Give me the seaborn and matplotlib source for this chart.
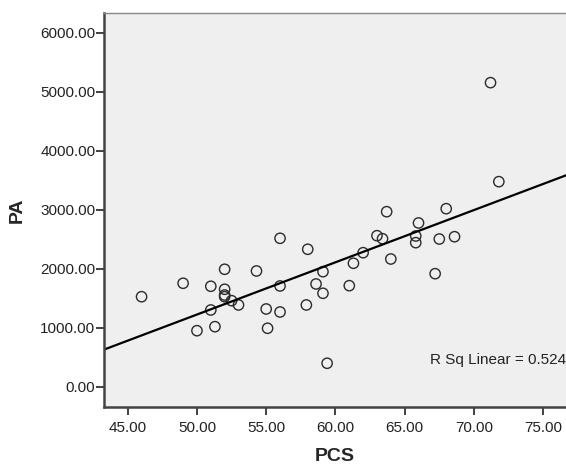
import numpy as np
import pandas as pd
import seaborn as sns
import matplotlib.pyplot as plt

# values
pcs = [46.0, 49.0, 51.0, 52.0, 52.0, 52.0, 52.0, 52.5, 53.0, 51.0,
       50.0, 51.3, 54.3, 56.0, 56.0, 55.0, 56.0, 55.1, 58.0, 59.1,
       58.6, 59.1, 57.9, 59.4, 61.0, 61.3, 62.0, 63.0, 63.4, 63.7,
       64.0, 65.8, 65.8, 66.0, 67.2, 67.5, 68.0, 68.6, 71.8, 71.2]
pa = [1525, 1753, 1702, 1990, 1651, 1554, 1525, 1458, 1385, 1300,
      949, 1017, 1961, 2515, 1707, 1317, 1266, 990, 2329, 1949,
      1741, 1583, 1385, 397, 1712, 2092, 2271, 2559, 2508, 2966,
      2164, 2554, 2441, 2775, 1915, 2503, 3017, 2542, 3475, 5153]
x_ticks = [45, 50, 55, 60, 65, 70, 75]
y_ticks = [0, 1000, 2000, 3000, 4000, 5000, 6000]
r2_text = "R Sq Linear = 0.524"

df = pd.DataFrame({"PCS": pcs, "PA": pa})

sns.set_style("white")
plt.rcParams['font.family'] = ['Liberation Sans', 'DejaVu Sans']

fig = plt.figure(figsize=(5.66, 4.66), dpi=100)
ax = fig.add_axes([0.1843, 0.1273, 0.8157, 0.8442])
ax.set_facecolor('#efefef')

ax.set_xlim(43.31, 76.65)
ax.set_ylim(-339, 6329)

sns.scatterplot(data=df, x="PCS", y="PA", ax=ax, s=55, marker='o',
                facecolor='none', edgecolor='#2b2b2b', linewidth=1.0)
sns.regplot(data=df, x="PCS", y="PA", ax=ax, scatter=False, ci=None,
            truncate=False, line_kws={"color": "black", "linewidth": 1.6})

ax.set_xlim(43.31, 76.65)
ax.set_ylim(-339, 6329)

ax.set_xticks(x_ticks)
ax.set_xticklabels([f"{v:.2f}" for v in x_ticks])
ax.set_yticks(y_ticks)
ax.set_yticklabels([f"{v:.2f}" for v in y_ticks])
ax.tick_params(axis='both', direction='out', length=6, width=1.3,
               color='#333333', labelsize=11, labelcolor='#222222')
ax.tick_params(axis='x', pad=4, bottom=True)
ax.tick_params(axis='y', pad=0.5, left=True)

ax.set_xlabel("PCS", fontsize=14, fontweight='bold')
ax.set_ylabel("PA", fontsize=14, fontweight='bold')
ax.xaxis.set_label_coords(0.5, -0.105)
ax.yaxis.set_label_coords(-0.17, 0.5)

for side in ['left', 'bottom']:
    ax.spines[side].set_color('#444444')
    ax.spines[side].set_linewidth(1.8)
ax.spines['top'].set_color('#888888')
ax.spines['top'].set_linewidth(1.0)
ax.spines['right'].set_visible(False)

ax.text(0.705, 0.119, r2_text, transform=ax.transAxes, ha='left', va='center',
        fontsize=11, color='#222222')

fig.savefig("out.png", dpi=100)
